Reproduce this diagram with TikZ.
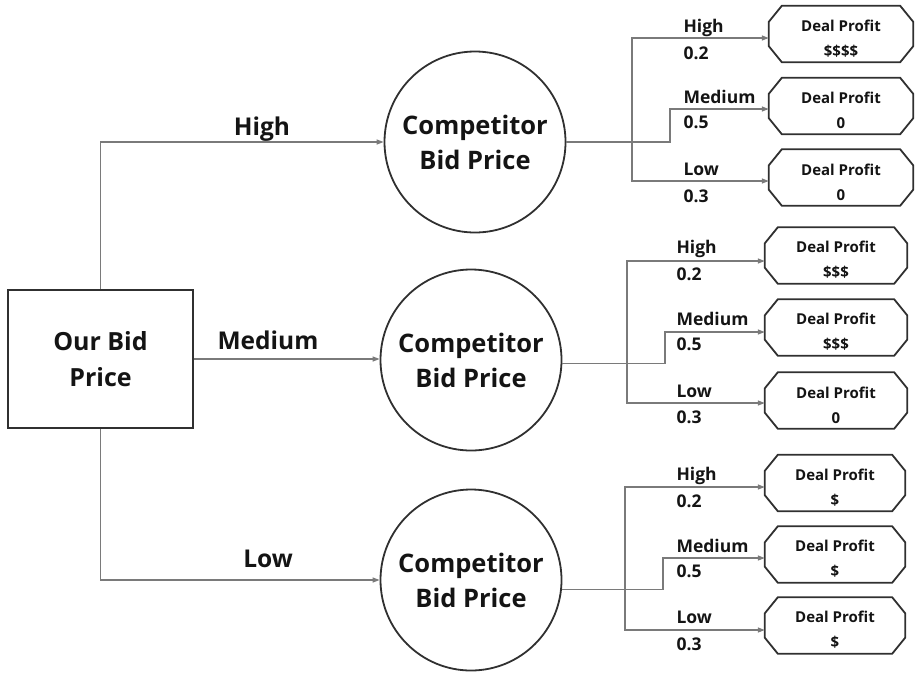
\documentclass[tikz,border=0pt]{standalone}
\usepackage{fontspec}
\setmainfont{Open Sans}
\usetikzlibrary{arrows.meta}
\definecolor{inkc}{HTML}{141414}
\definecolor{edgec}{HTML}{303030}
\definecolor{wirec}{HTML}{7A7A7A}
\tikzset{
  wire/.style={draw=wirec, line width=1.3pt},
  tip/.style={-{Triangle[length=7pt,width=5pt]}},
  bothtips/.style={{Triangle[length=7pt,width=5pt]}-{Triangle[length=7pt,width=5pt]}},
  decision/.style={draw=edgec, line width=2pt, rectangle, minimum width=185, minimum height=138,
    align=center, text=inkc, font=\bfseries\fontsize{25}{36}\selectfont},
  chance/.style={draw=edgec, line width=1.8pt, circle, minimum size=181, inner sep=0pt,
    align=center, text=inkc, font=\bfseries\fontsize{25.5}{35}\selectfont},
  payoff/.style={rectangle, minimum height=56, inner sep=0pt, align=center, text=inkc,
    font=\bfseries\fontsize{15}{25}\selectfont},
  biglabel/.style={anchor=base, text=inkc, font=\bfseries\fontsize{24.5}{28}\selectfont},
  smalllabel/.style={anchor=base west, text=inkc, font=\bfseries\fontsize{17.5}{20}\selectfont},
}
% octagonal outline around a payoff node; the text sits a little below the outline's middle
\newcommand{\octagonbox}[1]{%
  \draw[draw=edgec, line width=1.8pt]
    ([xshift=13,yshift=4.5]#1.north west) -- ([xshift=-13,yshift=4.5]#1.north east)
    -- ([yshift=-11.5]#1.north east) -- ([yshift=20.5]#1.south east)
    -- ([xshift=-13,yshift=4.5]#1.south east) -- ([xshift=13,yshift=4.5]#1.south west)
    -- ([yshift=20.5]#1.south west) -- ([yshift=-11.5]#1.north west) -- cycle;}
\begin{document}
\begin{tikzpicture}[x=1pt, y=-1pt]
\useasboundingbox (0,0) rectangle (915,673);

% decision node and competitor chance nodes
\node[decision] (obp) at (100.5,359) {Our Bid\\Price};
\node[chance] (c1) at (475,142) {Competitor\\Bid Price};
\node[chance] (c2) at (471,360) {Competitor\\Bid Price};
\node[chance] (c3) at (471,580) {Competitor\\Bid Price};

% payoff nodes
\node[payoff, minimum width=144] (d11) at (841,38.5)  {Deal Profit\\\$\$\$\$};
\node[payoff, minimum width=144] (d12) at (841,110.5) {Deal Profit\\0};
\node[payoff, minimum width=144] (d13) at (841,182)   {Deal Profit\\0};
\node[payoff, minimum width=142] (d21) at (836,260)   {Deal Profit\\\$\$\$};
\node[payoff, minimum width=142] (d22) at (836,332)   {Deal Profit\\\$\$\$};
\node[payoff, minimum width=142] (d23) at (836,405)   {Deal Profit\\0};
\node[payoff, minimum width=140] (d31) at (835,487.5) {Deal Profit\\\$};
\node[payoff, minimum width=140] (d32) at (835,559)   {Deal Profit\\\$};
\node[payoff, minimum width=140] (d33) at (835,630)   {Deal Profit\\\$};
\foreach \n in {d11,d12,d13,d21,d22,d23,d31,d32,d33} {\octagonbox{\n}}

% our bid branches
\draw[wire, tip] (obp.north) |- (c1.west);
\draw[wire, tip] (obp.east) -- (obp.east -| c2.west);
\draw[wire, tip] (obp.south) |- (c3.west);
\node[biglabel] (lh) at (262,135) {High};
\node[biglabel] (lm) at (268,349) {Medium};
\node[biglabel] (ll) at (268,567) {Low};

% competitor branches, top
\coordinate (k1) at (670,109);
\coordinate (u1) at (632,38);
\coordinate (b1) at (632,181);
\draw[wire, tip] (c1.east) -| (k1) -- (k1 -| d12.west);
\draw[wire, bothtips] (u1 -| d11.west) -- (u1) -- (b1) -- (b1 -| d13.west);

% competitor branches, middle
\coordinate (k2) at (665,332);
\coordinate (u2) at (627,261);
\coordinate (b2) at (627,403);
\draw[wire, tip] (c2.-2) -| (k2) -- (k2 -| d22.west);
\draw[wire, bothtips] (u2 -| d21.west) -- (u2) -- (b2) -- (b2 -| d23.west);

% competitor branches, bottom
\coordinate (k3) at (663,558);
\coordinate (u3) at (625,487);
\coordinate (b3) at (625,630);
\draw[wire, tip] (c3.-6) -| (k3) -- (k3 -| d32.west);
\draw[wire, bothtips] (u3 -| d31.west) -- (u3) -- (b3) -- (b3 -| d33.west);

% branch labels and probabilities
\node[smalllabel] (h1) at (680,32)  {High};
\node[smalllabel] (p11) at (680,59) {0.2};
\node[smalllabel] (m1) at (680,103) {Medium};
\node[smalllabel] (p12) at (680,128) {0.5};
\node[smalllabel] (w1) at (680,175) {Low};
\node[smalllabel] (p13) at (680,202) {0.3};

\node[smalllabel] (h2) at (673,253)  {High};
\node[smalllabel] (p21) at (673,280) {0.2};
\node[smalllabel] (m2) at (673,325) {Medium};
\node[smalllabel] (p22) at (673,350) {0.5};
\node[smalllabel] (w2) at (673,397) {Low};
\node[smalllabel] (p23) at (673,423) {0.3};

\node[smalllabel] (h3) at (673,480)  {High};
\node[smalllabel] (p31) at (673,507) {0.2};
\node[smalllabel] (m3) at (673,552) {Medium};
\node[smalllabel] (p32) at (673,577) {0.5};
\node[smalllabel] (w3) at (673,623) {Low};
\node[smalllabel] (p33) at (673,650) {0.3};
\end{tikzpicture}
\end{document}
